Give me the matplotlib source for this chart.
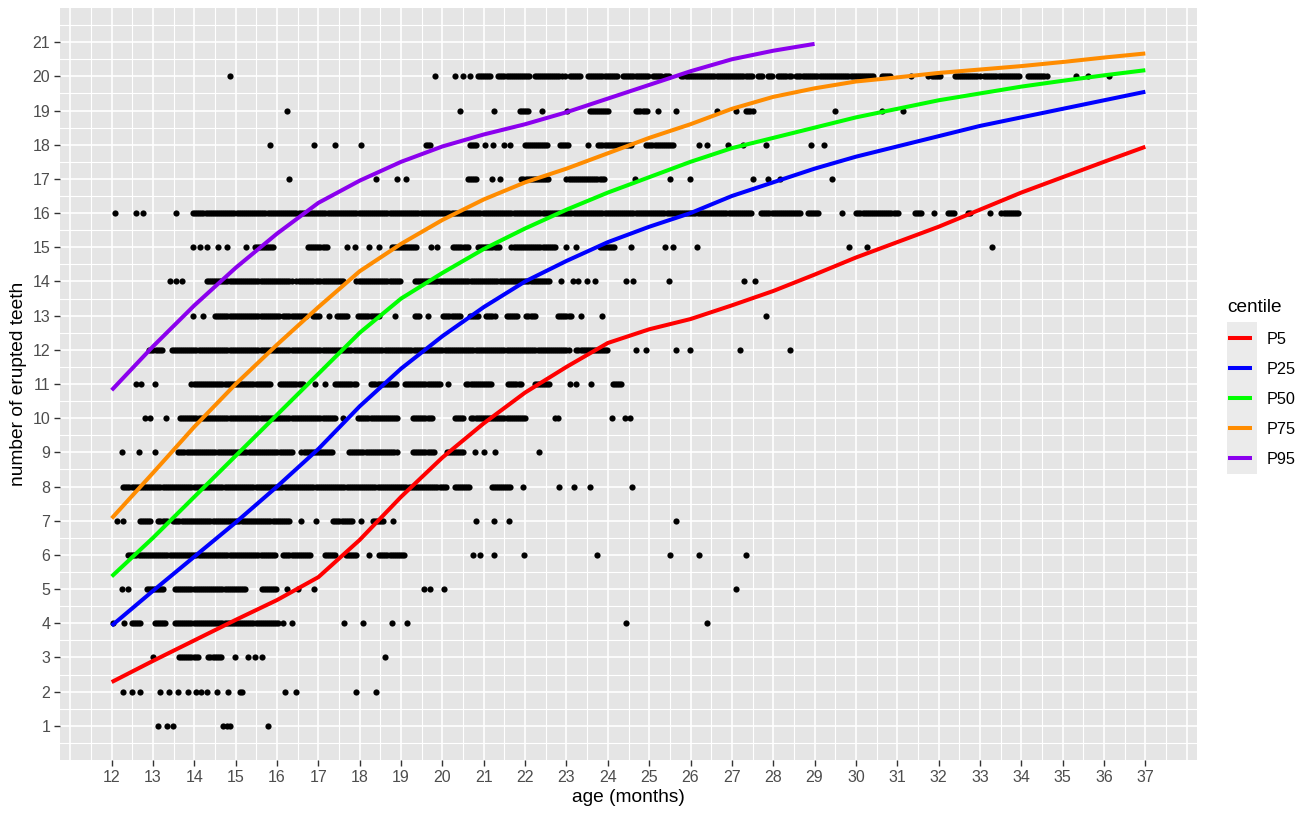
import numpy as np
import matplotlib
matplotlib.use("Agg")
import matplotlib.pyplot as plt
from matplotlib.patches import Rectangle

plt.rcParams['font.family'] = ['Liberation Sans', 'DejaVu Sans']

# observed children: ages (months) for each number of erupted teeth
# a float is one dot, a (start, end) pair is a solid run of overlapping dots
teeth_1 = [13.13, 13.33, 13.49, 14.7, 14.78, 14.86, 15.78]
teeth_2 = [12.28, 12.48, 12.68, 13.17, 13.39, 13.61, 13.84, 14.05, 14.17, 14.3,
           14.54, 14.82, 15.1, 15.14, 16.19, 16.47, 17.9, 18.4]
teeth_3 = [12.99, (13.63, 14.09), (14.34, 14.66), 14.98, 15.3, 15.46, 15.63, 18.61]
teeth_4 = [12.04, 12.31, (12.48, 12.72), (13.05, 13.33), (13.53, 16.03), 16.15, 16.37,
           17.62, 18.08, 18.79, 19.15, 24.45, 26.4]
teeth_5 = [12.24, 12.4, (12.85, 13.25), (13.53, 15.26), (15.63, 15.99), 16.23, 16.51,
           16.89, 19.55, 19.71, 20.03, 27.09]
teeth_6 = [(12.4, 15.99), (16.15, 16.83), (17.16, 17.44), (17.66, 17.92), 18.23,
           (18.47, 19.09), 20.74, 20.92, 21.24, 21.98, 23.75, 25.5, 26.2, 27.35]
teeth_7 = [12.12, 12.28, (12.68, 12.97), (13.13, 13.37), (13.49, 16.31), 16.57, 16.95,
           (17.36, 17.84), 18.04, (18.32, 18.61), 18.81, 20.82, 21.24, 21.6, 25.66]
teeth_8 = [(12.28, 20.1), (20.3, 20.66), (21.19, 21.67), 21.94, 22.82, 23.18, 23.56, 24.58]
teeth_9 = [12.24, 12.66, 13.05, (13.61, 16.39), (16.59, 17.36), (17.74, 18.93),
           (19.29, 19.81), (20.1, 20.54), 20.78, 21.0, 21.27, 22.34]
teeth_10 = [12.8, 12.93, 13.31, (13.65, 17.4), 17.6, (17.96, 18.93), (19.29, 19.77),
            (20.3, 20.54), (20.7, 22.03), 22.72, 22.8, 24.11, 24.41, 24.53]
teeth_11 = [12.6, 12.72, 13.05, (13.93, 15.83), (16.07, 16.63), 16.91, 17.16, (17.4, 17.92),
            (18.28, 18.89), (19.09, 19.94), 20.14, (20.58, 21.19), (21.59, 21.91),
            (22.23, 22.6), 23.08, 23.24, 23.6, (24.13, 24.33)]
teeth_12 = [(12.91, 13.25), (13.45, 23.08), (23.24, 24.01), 24.69, 24.93, 25.66, 25.98,
            27.19, 28.4]
teeth_13 = [13.97, 14.21, (14.5, 16.07), (16.15, 16.71), (16.87, 17.04), 17.26, (17.44, 17.72),
            (17.96, 18.49), 18.85, (19.33, 19.45), 19.65, (20.02, 20.42), (20.66, 20.86),
            (21.06, 21.27), (21.55, 21.83), (22.03, 22.23), (22.8, 23.12), 23.34, 23.85, 27.82]
teeth_14 = [13.41, 13.55, 13.69, (14.3, 16.39), (16.47, 16.87), (16.95, 17.6), (17.92, 19.01),
            (19.33, 22.6), 22.86, 23.16, 23.28, 23.5, 23.68, 24.45, 24.61, 25.47, 27.29, 27.57]
teeth_15 = [13.97, 14.13, 14.3, 14.58, 14.78, 15.26, (15.46, 15.91), (16.75, 17.24), 17.68,
            17.88, 18.23, 18.47, (18.77, 19.41), 19.73, 19.86, (20.26, 20.62), (20.86, 21.39),
            (21.67, 22.72), 23.0, 23.24, (23.81, 24.17), 24.57, 25.38, 25.58, 26.16, 29.83,
            30.27, 33.3]
teeth_16 = [12.08, 12.6, 12.76, 13.55, (13.97, 27.51), (27.71, 28.68), (28.84, 29.12), 29.67,
            (30.01, 31.02), (31.42, 31.58), 31.88, (32.23, 32.39), (32.71, 32.79), 33.24,
            (33.52, 33.96)]
teeth_17 = [16.28, 18.39, 18.89, 19.11, (20.62, 20.86), 21.19, 21.39, (21.91, 22.6),
            (23.0, 23.93), 24.65, 25.51, 25.98, 27.51, 27.88, 28.16, 29.41]
teeth_18 = [15.83, 16.89, 17.4, 18.04, (19.61, 19.71), (20.66, 20.82), 21.02, 21.23, 21.5,
            21.63, (21.99, 22.56), (22.84, 23.08), 23.52, (23.77, 24.61), (24.93, 25.58),
            26.21, 26.4, 26.91, 27.27, 27.82, 28.91, 29.22]
teeth_19 = [16.23, 20.42, 21.24, (21.87, 22.11), 22.4, 23.02, (23.56, 24.05), (24.69, 24.97),
            25.22, 25.64, 26.64, 27.09, (27.35, 27.51), 29.49, 30.62, 31.14]
teeth_20 = [14.86, 19.82, 20.3, 20.5, 20.66, (20.86, 21.19), (21.35, 22.11), (22.23, 22.88),
            22.96, (23.08, 23.36), (23.52, 24.25), (24.37, 25.0), (25.09, 25.3), (25.38, 25.5),
            (25.78, 27.51), (27.63, 27.75), (27.88, 28.0), (28.12, 28.44), (28.56, 28.68),
            (28.72, 30.45), (30.62, 30.82), 31.34, 31.74, (31.83, 32.07), (32.39, 33.0),
            (33.1, 33.96), (34.16, 34.65), 35.33, 35.61, 36.13]

teeth_rows = [teeth_1, teeth_2, teeth_3, teeth_4, teeth_5, teeth_6, teeth_7, teeth_8,
              teeth_9, teeth_10, teeth_11, teeth_12, teeth_13, teeth_14, teeth_15,
              teeth_16, teeth_17, teeth_18, teeth_19, teeth_20]

# centile curves
age_knots = list(range(12, 38))
p5 = [2.28, 2.9, 3.5, 4.1, 4.68, 5.35, 6.44, 7.7, 8.85, 9.85, 10.75, 11.5, 12.2, 12.6,
      12.9, 13.3, 13.72, 14.2, 14.7, 15.15, 15.6, 16.1, 16.6, 17.05, 17.5, 17.94]
p25 = [3.93, 4.95, 5.95, 6.95, 8.0, 9.1, 10.35, 11.45, 12.4, 13.25, 14.0, 14.6, 15.15,
       15.6, 16.0, 16.5, 16.9, 17.3, 17.65, 17.95, 18.25, 18.55, 18.8, 19.05, 19.3, 19.55]
p50 = [5.37, 6.5, 7.7, 8.9, 10.1, 11.3, 12.5, 13.5, 14.25, 14.95, 15.55, 16.1, 16.6,
       17.05, 17.5, 17.9, 18.2, 18.5, 18.8, 19.05, 19.3, 19.5, 19.7, 19.87, 20.03, 20.18]
p75 = [7.07, 8.4, 9.75, 11.0, 12.15, 13.25, 14.3, 15.1, 15.8, 16.4, 16.9, 17.3, 17.75,
       18.2, 18.6, 19.05, 19.4, 19.65, 19.85, 19.97, 20.1, 20.2, 20.3, 20.42, 20.55, 20.67]
p95 = [10.82, 12.1, 13.3, 14.4, 15.4, 16.3, 16.95, 17.5, 17.95, 18.3, 18.6, 18.95, 19.35,
       19.75, 20.15, 20.5, 20.75, 20.95]

centile_names = ["P5", "P25", "P50", "P75", "P95"]
centile_values = [p5, p25, p50, p75, p95]
centile_colors = ["#FF0000", "#0000FF", "#00FF00", "#FF8C00", "#8B00EE"]

x_ticks = list(range(12, 38))
y_ticks = list(range(1, 22))


def row_ages(items):
    ages = []
    for it in items:
        if isinstance(it, tuple):
            ages.extend(np.arange(it[0], it[1] + 1e-9, 0.05))
        else:
            ages.append(it)
    return np.array(ages)


fig = plt.figure(figsize=(13.09, 8.14), dpi=100)
ax = fig.add_axes([60 / 1309, 1 - 760 / 814, 1137 / 1309, 752 / 814])
ax.set_facecolor("#E5E5E5")

# ggplot style grid: lines every half unit
for gx in np.arange(11, 38.01, 0.5):
    ax.axvline(gx, color="white", lw=1.2 if gx % 1 == 0 else 0.8, zorder=0)
for gy in np.arange(0.5, 21.51, 0.5):
    ax.axhline(gy, color="white", lw=1.2 if gy % 1 == 0 else 0.8, zorder=0)

for n, items in enumerate(teeth_rows, start=1):
    ages = row_ages(items)
    ax.scatter(ages, np.full(len(ages), n), s=20, color="black", linewidths=0, zorder=2)

for name, vals, col in zip(centile_names, centile_values, centile_colors):
    ax.plot(age_knots[:len(vals)], vals, color=col, lw=2.9, label=name,
            solid_capstyle="butt", zorder=3)

ax.set_xlim(10.75, 38.25)
ax.set_ylim(0, 22)
ax.set_xticks(x_ticks)
ax.set_yticks(y_ticks)
ax.tick_params(axis="both", length=4, width=1, color="#333333", labelcolor="#4D4D4D",
               labelsize=11.5, pad=3)
for sp in ax.spines.values():
    sp.set_visible(False)

ax.set_xlabel("age (months)", fontsize=13.8, labelpad=3)
ax.set_ylabel("number of erupted teeth", fontsize=13.8, labelpad=4)

# legend with grey key background
fig.add_artist(Rectangle((1227 / 1309, 1 - 474 / 814), 30 / 1309, 152 / 814,
                         transform=fig.transFigure, facecolor="#EBEBEB",
                         edgecolor="none", zorder=0))
fig.text(1227 / 1309, 1 - 307 / 814, "centile", fontsize=13.7, va="center", ha="left")
leg = fig.legend(loc="upper left", bbox_to_anchor=(1228 / 1309, 1 - 331.5 / 814),
                 frameon=False, fontsize=11.7,
                 handlelength=1.5, handletextpad=0.85, labelspacing=0.93,
                 borderpad=0, borderaxespad=0)

fig.savefig("out.png", dpi=100)
